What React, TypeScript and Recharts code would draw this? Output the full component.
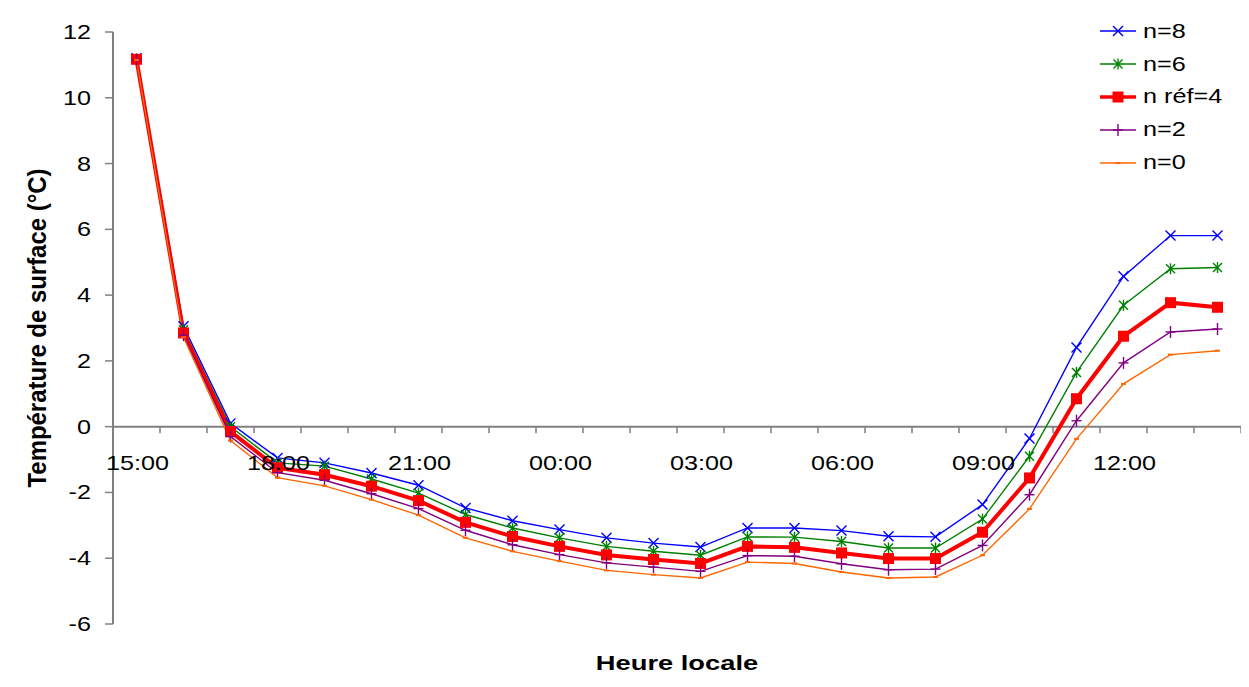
import { LineChart, Line, XAxis, YAxis, ReferenceLine, Legend } from "recharts";

const HOURS = [
  "15:00", "16:00", "17:00", "18:00", "19:00", "20:00", "21:00", "22:00",
  "23:00", "00:00", "01:00", "02:00", "03:00", "04:00", "05:00", "06:00",
  "07:00", "08:00", "09:00", "10:00", "11:00", "12:00", "13:00", "14:00",
];
const N8 = [11.2, 3.05, 0.1, -0.95, -1.1, -1.41, -1.78, -2.47, -2.86, -3.13, -3.38, -3.54, -3.66, -3.08, -3.08, -3.16, -3.33, -3.35, -2.37, -0.36, 2.41, 4.57, 5.81, 5.81];
const N6 = [11.18, 2.95, 0.0, -1.1, -1.2, -1.59, -2.02, -2.67, -3.08, -3.38, -3.64, -3.79, -3.91, -3.35, -3.36, -3.49, -3.69, -3.69, -2.81, -0.9, 1.65, 3.69, 4.8, 4.84];
const N4 = [11.17, 2.85, -0.15, -1.25, -1.46, -1.81, -2.25, -2.91, -3.34, -3.64, -3.9, -4.04, -4.16, -3.64, -3.67, -3.84, -4.01, -4.01, -3.21, -1.56, 0.85, 2.75, 3.77, 3.63];
const N2 = [11.16, 2.78, -0.3, -1.4, -1.63, -2.04, -2.49, -3.15, -3.59, -3.89, -4.14, -4.27, -4.4, -3.92, -3.94, -4.17, -4.35, -4.33, -3.61, -2.07, 0.18, 1.94, 2.88, 2.97];
const N0 = [11.15, 2.72, -0.42, -1.55, -1.8, -2.22, -2.69, -3.38, -3.79, -4.09, -4.37, -4.5, -4.6, -4.12, -4.16, -4.42, -4.6, -4.57, -3.91, -2.5, -0.37, 1.3, 2.19, 2.31];
const Y_TICKS = [-6, -4, -2, 0, 2, 4, 6, 8, 10, 12];

const SERIES = [
  { key: "n8", name: "n=8", color: "#0000FF", width: 1.4, shape: "x" },
  { key: "n6", name: "n=6", color: "#008000", width: 1.4, shape: "star" },
  { key: "n4", name: "n réf=4", color: "#FF0000", width: 4, shape: "square" },
  { key: "n2", name: "n=2", color: "#800080", width: 1.4, shape: "plus" },
  { key: "n0", name: "n=0", color: "#FF6600", width: 1.4, shape: "dash" },
];

const data = HOURS.map((hour, i) => ({
  hour,
  n8: N8[i],
  n6: N6[i],
  n4: N4[i],
  n2: N2[i],
  n0: N0[i],
}));

const W = 1249;
const H = 687;
const PLOT_TOP = 32;
const PLOT_BOTTOM = 624;
const Y_MIN = -6;
const Y_MAX = 12;
const ZERO_Y = PLOT_TOP + ((Y_MAX - 0) / (Y_MAX - Y_MIN)) * (PLOT_BOTTOM - PLOT_TOP);
const BAND = (1241 - 113) / HOURS.length;
const STRETCH = 1.26;
const FONT = "'Liberation Sans', Arial, sans-serif";

function Marker({ shape, cx, cy, color }: any) {
  if (cx == null || cy == null) return null;
  const s = 5;
  switch (shape) {
    case "x":
      return (
        <g stroke={color} strokeWidth={1.4}>
          <line x1={cx - s} y1={cy - s} x2={cx + s} y2={cy + s} />
          <line x1={cx - s} y1={cy + s} x2={cx + s} y2={cy - s} />
        </g>
      );
    case "star":
      return (
        <g stroke={color} strokeWidth={1.4}>
          <line x1={cx - 4.5} y1={cy - 4.5} x2={cx + 4.5} y2={cy + 4.5} />
          <line x1={cx - 4.5} y1={cy + 4.5} x2={cx + 4.5} y2={cy - 4.5} />
          <line x1={cx} y1={cy - 5.5} x2={cx} y2={cy + 5.5} />
        </g>
      );
    case "square":
      return <rect x={cx - 5.5} y={cy - 5.5} width={11} height={11} fill={color} />;
    case "plus":
      return (
        <g stroke={color} strokeWidth={1.4}>
          <line x1={cx - s} y1={cy} x2={cx + s} y2={cy} />
          <line x1={cx} y1={cy - s - 1} x2={cx} y2={cy + s + 1} />
        </g>
      );
    default:
      return <rect x={cx - 2.5} y={cy - 1} width={5} height={2} fill={color} />;
  }
}

// x axis sits at y=0 (Excel style), so ticks and labels are drawn there
function XTick(props: any) {
  const { x, index, payload } = props;
  const left = x - BAND / 2;
  return (
    <g>
      <rect x={left - 0.75} y={ZERO_Y} width={1.5} height={6.5} fill="#808080" />
      {index === HOURS.length - 1 && (
        <rect x={x + BAND / 2 - 0.75} y={ZERO_Y} width={1.5} height={6.5} fill="#808080" />
      )}
      {index % 3 === 0 && (
        <text
          transform={`translate(${x + 1} ${ZERO_Y + 43}) scale(${STRETCH} 1)`}
          textAnchor="middle"
          fontSize={20}
          fontFamily={FONT}
          fill="#000"
        >
          {payload.value}
        </text>
      )}
    </g>
  );
}

function YTick(props: any) {
  const { x, y, payload } = props;
  return (
    <text
      transform={`translate(${x} ${y + 7}) scale(${STRETCH} 1)`}
      textAnchor="end"
      fontSize={20}
      fontFamily={FONT}
      fill="#000"
    >
      {payload.value}
    </text>
  );
}

function LegendBox() {
  return (
    <div style={{ fontFamily: FONT }}>
      {SERIES.map((s) => (
        <div key={s.key} style={{ display: "flex", alignItems: "center", height: 32.8 }}>
          <svg width={44} height={20}>
            <line x1={1} y1={10} x2={37} y2={10} stroke={s.color} strokeWidth={s.key === "n4" ? 3.5 : 1.4} />
            <Marker shape={s.shape} cx={19} cy={10} color={s.color} />
          </svg>
          <span
            style={{
              fontSize: 20,
              display: "inline-block",
              transform: `scaleX(${STRETCH})`,
              transformOrigin: "left center",
              whiteSpace: "nowrap",
              color: "#000",
            }}
          >
            {s.name}
          </span>
        </div>
      ))}
    </div>
  );
}

export default function App() {
  return (
    <div style={{ position: "relative", width: W, height: H, margin: -8, background: "#fff", overflow: "hidden" }}>
      <div style={{ position: "absolute", left: 0, top: 0 }}>
        <LineChart width={W} height={H} data={data} margin={{ top: PLOT_TOP, right: 8, left: 0, bottom: 0 }}>
          <XAxis
            dataKey="hour"
            interval={0}
            padding={{ left: BAND / 2, right: BAND / 2 }}
            axisLine={false}
            tickLine={false}
            height={H - PLOT_BOTTOM}
            tick={<XTick />}
            label={{
              content: (p: any) => {
                const vb = p.viewBox || {};
                return (
                  <text
                    transform={`translate(${vb.x + vb.width / 2} 670) scale(1.3 1)`}
                    textAnchor="middle"
                    fontSize={21}
                    fontWeight="bold"
                    fontFamily={FONT}
                    fill="#000"
                  >
                    Heure locale
                  </text>
                );
              },
            }}
          />
          <YAxis
            type="number"
            domain={[Y_MIN, Y_MAX]}
            ticks={Y_TICKS}
            interval={0}
            width={113}
            tickSize={8}
            tickMargin={14}
            axisLine={{ stroke: "#808080", strokeWidth: 2 }}
            tickLine={{ stroke: "#808080", strokeWidth: 1.5 }}
            tick={<YTick />}
            allowDataOverflow
            label={{
              content: () => (
                <text
                  transform={`translate(46 ${(PLOT_TOP + PLOT_BOTTOM) / 2}) rotate(-90) scale(1.14 1.26)`}
                  textAnchor="middle"
                  fontSize={21}
                  fontWeight="bold"
                  fontFamily={FONT}
                  fill="#000"
                >
                  Température de surface (°C)
                </text>
              ),
            }}
          />
          <ReferenceLine y={0} stroke="#808080" strokeWidth={2} />
          <Legend
            layout="vertical"
            align="center"
            verticalAlign="middle"
            content={<LegendBox />}
            wrapperStyle={{ left: 1099, top: 15, width: 150, height: 170 }}
          />
          {SERIES.map((s) => (
            <Line
              key={s.key}
              type="linear"
              dataKey={s.key}
              name={s.name}
              stroke={s.color}
              strokeWidth={s.width}
              isAnimationActive={false}
              dot={(p: any) => <Marker key={`${s.key}-${p.index}`} shape={s.shape} cx={p.cx} cy={p.cy} color={s.color} />}
              activeDot={false}
            />
          ))}
        </LineChart>
      </div>
      <div
        style={{
          position: "absolute",
          left: 5,
          top: 5,
          width: 1300,
          height: 800,
          border: "2px solid #000",
          pointerEvents: "none",
        }}
      />
    </div>
  );
}
